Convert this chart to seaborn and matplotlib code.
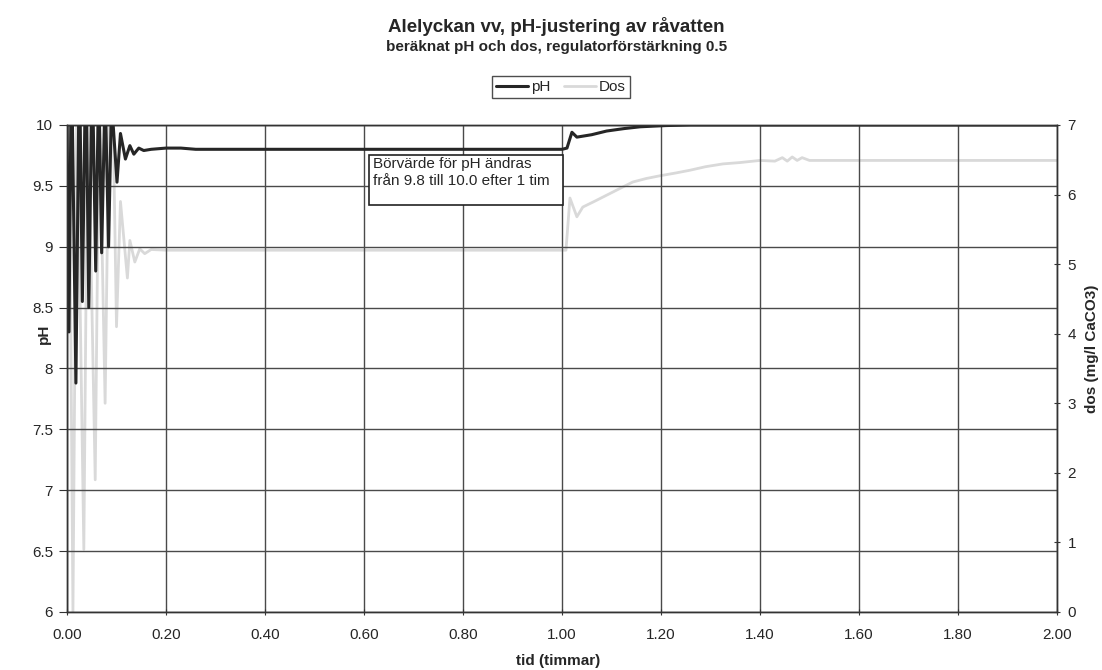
import matplotlib
matplotlib.use("Agg")
import matplotlib.pyplot as plt
import seaborn as sns
import pandas as pd
from matplotlib.patches import Rectangle

# pH (left axis)
ph_tid = [0.000, 0.004, 0.009, 0.018, 0.025, 0.031, 0.038, 0.044, 0.051, 0.058,
          0.064, 0.070, 0.077, 0.084, 0.090, 0.101, 0.108, 0.118, 0.127, 0.135,
          0.145, 0.155, 0.170, 0.200, 0.230, 0.260, 1.000, 1.010, 1.020,
          1.030, 1.060, 1.090, 1.125, 1.158, 1.210, 1.260, 2.000]
ph_val = [10.0, 8.30, 10.6, 7.88, 10.6, 8.55, 10.6, 8.50, 10.5, 8.80,
          10.4, 8.95, 10.3, 9.00, 10.2, 9.53, 9.93, 9.72, 9.83, 9.76,
          9.81, 9.79, 9.80, 9.81, 9.81, 9.80, 9.80, 9.81, 9.94,
          9.90, 9.92, 9.95, 9.97, 9.985, 9.995, 10.0, 10.0]

# dos (right axis)
dos_tid = [0.000, 0.004, 0.012, 0.020, 0.034, 0.042, 0.057, 0.065, 0.077, 0.085,
           0.094, 0.100, 0.108, 0.122, 0.127, 0.137, 0.147, 0.157, 0.170, 0.200,
           1.000, 1.008, 1.016, 1.030, 1.042, 1.065, 1.090, 1.115, 1.143, 1.170,
           1.198, 1.230, 1.259, 1.290, 1.325, 1.360, 1.400, 1.430, 1.445, 1.455,
           1.465, 1.475, 1.485, 1.500, 1.550, 1.600, 2.000]
dos_val = [5.0, 7.5, 0.0, 7.5, 0.9, 7.5, 1.9, 7.4, 3.0, 7.2,
           6.7, 4.1, 5.9, 4.8, 5.34, 5.03, 5.22, 5.15, 5.21, 5.20,
           5.20, 5.20, 5.95, 5.68, 5.82, 5.90, 5.99, 6.08, 6.18, 6.23,
           6.27, 6.31, 6.35, 6.40, 6.44, 6.46, 6.49, 6.48, 6.53, 6.48,
           6.54, 6.49, 6.53, 6.49, 6.49, 6.49, 6.49]

ph_df = pd.DataFrame({"tid": ph_tid, "pH": ph_val})
dos_df = pd.DataFrame({"tid": dos_tid, "Dos": dos_val})

sns.set_style("white")
plt.rcParams["font.family"] = ["Liberation Sans", "DejaVu Sans"]

fig = plt.figure(figsize=(11.02, 6.70), dpi=100)
ax = fig.add_axes([0.0608, 0.0866, 0.8984, 0.7269])
ax2 = ax.twinx()

sns.lineplot(data=dos_df, x="tid", y="Dos", ax=ax2, color="#d9d9d9", lw=2.0,
             estimator=None, sort=False, label="Dos", legend=False)
sns.lineplot(data=ph_df, x="tid", y="pH", ax=ax, color="#262626", lw=2.2,
             estimator=None, sort=False, label="pH", legend=False)
ax.set_zorder(ax2.get_zorder() + 1)
ax.patch.set_visible(False)

ax.set_xlim(0, 2)
ax.set_ylim(6, 10)
ax2.set_ylim(0, 7)
ax.set_xticks([i * 0.2 for i in range(11)])
ax.set_xticklabels([f"{i * 0.2:.2f}" for i in range(11)])
ax.set_yticks([6 + 0.5 * i for i in range(9)])
ax.set_yticklabels(["6", "6.5", "7", "7.5", "8", "8.5", "9", "9.5", "10"])
ax2.set_yticks(range(8))

ax.grid(True, color="#4a4a4a", lw=1.0)
for a in (ax, ax2):
    for s in a.spines.values():
        s.set_color("#333333")
        s.set_linewidth(1.0)
ax.tick_params(axis="x", labelsize=11, length=5, direction="inout",
               color="#333333", bottom=True, pad=9)
ax.tick_params(axis="y", labelsize=11, length=6, direction="out",
               color="#333333", left=True, pad=4)
ax2.tick_params(axis="y", labelsize=11, length=5, direction="inout",
                color="#333333", right=True, pad=5)

ax.set_xlabel("tid (timmar)", fontsize=11, fontweight="bold")
ax.xaxis.set_label_coords(0.496, -0.086)
ax.set_ylabel("pH", fontsize=11, fontweight="bold")
ax.yaxis.set_label_coords(-0.016, 0.572)
ax2.set_ylabel("dos (mg/l CaCO3)", fontsize=11, fontweight="bold")
ax2.yaxis.set_label_coords(1.028, 0.54)

# annotation box
ax.add_patch(Rectangle((0.611, 9.343), 0.391, 0.411, fill=True, fc="white",
                       ec="#222222", lw=1.2, zorder=4))
ax.text(0.618, 9.738,
        "Börvärde för pH ändras\nfrån 9.8 till 10.0 efter 1 tim",
        fontsize=11, va="top", ha="left", zorder=5, linespacing=1.25)

fig.text(0.505, 0.961, "Alelyckan vv, pH-justering av råvatten",
         ha="center", va="center", fontsize=13.5, fontweight="bold")
fig.text(0.505, 0.930, "beräknat pH och dos, regulatorförstärkning 0.5",
         ha="center", va="center", fontsize=11, fontweight="bold")

h1, l1 = ax.get_legend_handles_labels()
h2, l2 = ax2.get_legend_handles_labels()
fig.legend(h1 + h2, l1 + l2, loc="center", bbox_to_anchor=(0.509, 0.870),
           ncol=2, frameon=True, fancybox=False, edgecolor="#222222",
           fontsize=11, handlelength=2.1, handletextpad=0.2, columnspacing=0.9,
           borderpad=0.25)

fig.savefig("out.png", dpi=100)
